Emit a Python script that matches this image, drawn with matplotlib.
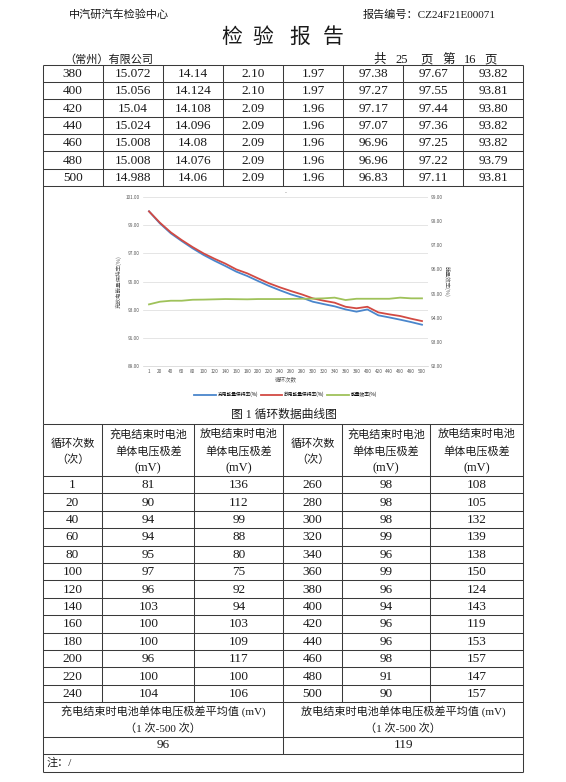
import numpy as np
import matplotlib
matplotlib.use("Agg")
import matplotlib.pyplot as plt

# =============================================================================
# Data
# =============================================================================

# upper table (continuation of previous page)
top_cycles = ["380", "400", "420", "440", "460", "480", "500"]
top_col2 = ["15.072", "15.056", "15.04", "15.024", "15.008", "15.008", "14.988"]
top_col3 = ["14.14", "14.124", "14.108", "14.096", "14.08", "14.076", "14.06"]
top_col4 = ["2.10", "2.10", "2.09", "2.09", "2.09", "2.09", "2.09"]
top_col5 = ["1.97", "1.97", "1.96", "1.96", "1.96", "1.96", "1.96"]
top_col6 = ["97.38", "97.27", "97.17", "97.07", "96.96", "96.96", "96.83"]
top_col7 = ["97.67", "97.55", "97.44", "97.36", "97.25", "97.22", "97.11"]
top_col8 = ["93.82", "93.81", "93.80", "93.82", "93.82", "93.79", "93.81"]

# chart series
chart_cycles = ["1", "20", "40", "60", "80", "100", "120", "140", "160", "180",
                "200", "220", "240", "260", "280", "300", "320", "340", "360",
                "380", "400", "420", "440", "460", "480", "500"]
charge_ret = [100.0, 99.14, 98.43, 97.88, 97.36, 96.89, 96.48, 96.10, 95.70,
              95.39, 95.03, 94.68, 94.37, 94.08, 93.85, 93.56, 93.39, 93.23,
              93.01, 92.85, 93.01, 92.59, 92.44, 92.28, 92.11, 91.92]
discharge_ret = [100.0, 99.19, 98.50, 97.95, 97.45, 97.00, 96.62, 96.27, 95.86,
                 95.58, 95.22, 94.87, 94.58, 94.32, 94.08, 93.80, 93.63, 93.49,
                 93.20, 93.09, 93.20, 92.80, 92.66, 92.54, 92.35, 92.18]
efficiency = [93.37, 93.56, 93.63, 93.63, 93.70, 93.71, 93.73, 93.75, 93.74,
              93.73, 93.75, 93.75, 93.75, 93.76, 93.77, 93.78, 93.80, 93.85,
              93.68, 93.77, 93.77, 93.77, 93.77, 93.85, 93.80, 93.80]

# lower table
low_cycles_a = ["1", "20", "40", "60", "80", "100", "120", "140", "160", "180",
                "200", "220", "240"]
low_charge_a = ["81", "90", "94", "94", "95", "97", "96", "103", "100", "100",
                "96", "100", "104"]
low_disch_a = ["136", "112", "99", "88", "80", "75", "92", "94", "103", "109",
               "117", "100", "106"]
low_cycles_b = ["260", "280", "300", "320", "340", "360", "380", "400", "420",
                "440", "460", "480", "500"]
low_charge_b = ["98", "98", "98", "99", "96", "99", "96", "94", "96", "96",
                "98", "91", "90"]
low_disch_b = ["108", "105", "132", "139", "138", "150", "124", "143", "119",
               "153", "157", "147", "157"]
avg_charge = "96"
avg_disch = "119"

# =============================================================================
# Styles
# =============================================================================

W, H = 566, 782
INK = "#1a1a1a"
LINE = "#3a3a3a"
GREY = "#595959"
SERIF = ["Liberation Serif", "Noto Sans CJK SC"]
CJK = ["Noto Sans CJK SC", "DejaVu Sans"]
NUM = 9.5   # size of the table figures

fig = plt.figure(figsize=(W / 100, H / 100), dpi=100)
bg = fig.add_axes([0, 0, 1, 1])
bg.set_xlim(0, W)
bg.set_ylim(H, 0)
bg.axis("off")


def txt(x, y, s, size=NUM, family=SERIF, ha="center", color=INK):
    bg.text(x, y, s, fontsize=size, family=family, ha=ha, va="center",
            color=color)


def hline(y, x0, x1):
    bg.plot([x0, x1], [y, y], color=LINE, lw=0.75, solid_capstyle="butt")


def vline(x, y0, y1):
    bg.plot([x, x], [y0, y1], color=LINE, lw=0.75, solid_capstyle="butt")


# =============================================================================
# Page header
# =============================================================================

txt(69, 15, "中汽研汽车检验中心", size=8, family=CJK, ha="left")
txt(363, 15, "报告编号：CZ24F21E00071", size=8, ha="left")
for cx, ch in zip([231.5, 263, 300, 333.5], "检验报告"):
    txt(cx, 37, ch, size=15, family=CJK)
txt(64, 60, "（常州）有限公司", size=8, family=CJK, ha="left")
for cx, tok in zip([380, 401.5, 427, 449, 470, 491],
                   ["共", "25", "页", "第", "16", "页"]):
    txt(cx, 60, tok, size=9)

# =============================================================================
# Upper table
# =============================================================================

L, R = 42.7, 523.3
tx = np.linspace(L, R, 9)
ty = 64.7 + 17.33 * np.arange(8)
for y in ty:
    hline(y, L, R)
for x in tx[1:-1]:
    vline(x, ty[0], ty[-1])
vline(L, ty[0], 424)
vline(R, ty[0], 424)
cols = [top_cycles, top_col2, top_col3, top_col4, top_col5, top_col6,
        top_col7, top_col8]
for j, col in enumerate(cols):
    for i, v in enumerate(col):
        txt((tx[j] + tx[j + 1]) / 2, (ty[i] + ty[i + 1]) / 2 + 0.5, v)

# =============================================================================
# Chart
# =============================================================================

px0, px1, py0, py1 = 143, 428, 197.3, 365.7
ax = fig.add_axes([px0 / W, 1 - py1 / H, (px1 - px0) / W, (py1 - py0) / H])
ax.patch.set_alpha(0)
xi = np.arange(len(chart_cycles))
ax.plot(xi, charge_ret, color="#4a86cc", lw=1.3, label="充电能量保持率(%)")
ax.plot(xi, discharge_ret, color="#d24a43", lw=1.3, label="放电能量保持率(%)")
ax.plot(xi, efficiency, color="#9fc25a", lw=1.3, label="能量效率(%)")
ax.set_xlim(-0.55, len(chart_cycles) - 0.45)
ax.set_ylim(89, 101)
ax.set_yticks(np.arange(89, 102, 2))
ax.set_yticklabels([f"{v:.2f}" for v in np.arange(89, 102, 2)])
ax.set_xticks(xi)
ax.set_xticklabels(chart_cycles)
ax.grid(axis="y", color="#dadada", lw=0.5)
ax.set_axisbelow(True)
for s in ["top", "left", "right"]:
    ax.spines[s].set_visible(False)
ax.spines["bottom"].set_color("#d0d0d0")
ax.spines["bottom"].set_linewidth(0.5)
ax.tick_params(length=0, labelsize=3.4, colors=GREY, pad=2.5)
ax.set_xlabel("循环次数", fontsize=4, family=CJK, color=GREY, labelpad=1.5)
ax.set_ylabel("充放电能量保持率(%)", fontsize=4, family=CJK, color=GREY,
              labelpad=3)
ax2 = ax.twinx()
ax2.set_ylim(92, 99)
ax2.set_yticks(np.arange(92, 100, 1))
ax2.set_yticklabels([f"{v:.2f}" for v in np.arange(92, 100, 1)])
for s in ax2.spines.values():
    s.set_visible(False)
ax2.tick_params(length=0, labelsize=3.4, colors=GREY, pad=2)
ax2.set_ylabel("能量效率(%)", fontsize=4, family=CJK, color=GREY,
               rotation=270, labelpad=5)
for lab in ax.get_xticklabels() + ax.get_yticklabels() + ax2.get_yticklabels():
    lab.set_family(CJK)
txt(285.5, 193, "-", size=4, family=CJK, color=GREY)
fig.legend(*ax.get_legend_handles_labels(), loc="center",
           bbox_to_anchor=(285.5 / W, 1 - 394.5 / H), ncol=3, frameon=False,
           prop={"family": CJK, "size": 3.4}, handlelength=4.5,
           columnspacing=0.6, handletextpad=0.4)
for h in fig.legends[0].get_lines():
    h.set_linewidth(1.3)
txt(283.5, 415, "图 1 循环数据曲线图", size=8.5)

# =============================================================================
# Lower table
# =============================================================================

bx = [42.7, 102.3, 194.3, 283.3, 341.7, 430.0, 523.3]
top, head_bot = 424, 476
rh = 17.4
by = head_bot + rh * np.arange(14)
hline(top, L, R)
for y in by:
    hline(y, L, R)
hline(736.7, L, R)
hline(754, L, R)
hline(771.7, L, R)
for x in bx[1:-1]:
    vline(x, top, by[-1])
vline(283.3, by[-1], 754)
vline(L, top, 771.7)
vline(R, top, 771.7)

for k in (0, 3):
    cx = (bx[k] + bx[k + 1]) / 2
    txt(cx, 443.5, "循环次数", size=8, family=CJK)
    txt(cx, 459.5, "（次）", size=8, family=CJK)
for k, head in ((1, "充电"), (2, "放电"), (4, "充电"), (5, "放电")):
    cx = (bx[k] + bx[k + 1]) / 2
    txt(cx, 434, head + "结束时电池", size=8, family=CJK)
    txt(cx, 451, "单体电压极差", size=8, family=CJK)
    txt(cx, 468.5, "(mV)", size=9)

low_cols = [low_cycles_a, low_charge_a, low_disch_a,
            low_cycles_b, low_charge_b, low_disch_b]
for j, col in enumerate(low_cols):
    for i, v in enumerate(col):
        txt((bx[j] + bx[j + 1]) / 2, (by[i] + by[i + 1]) / 2 + 0.5, v)

for x0, x1, head, val in ((L, 283.3, "充电", avg_charge),
                          (283.3, R, "放电", avg_disch)):
    cx = (x0 + x1) / 2
    txt(cx, 711.5, head + "结束时电池单体电压极差平均值 (mV)", size=8)
    txt(cx, 728.5, "（1 次-500 次）", size=8)
    txt(cx, 745.5, val)
txt(47, 763, "注：/", size=8, ha="left")

fig.savefig("out.png", dpi=100)
